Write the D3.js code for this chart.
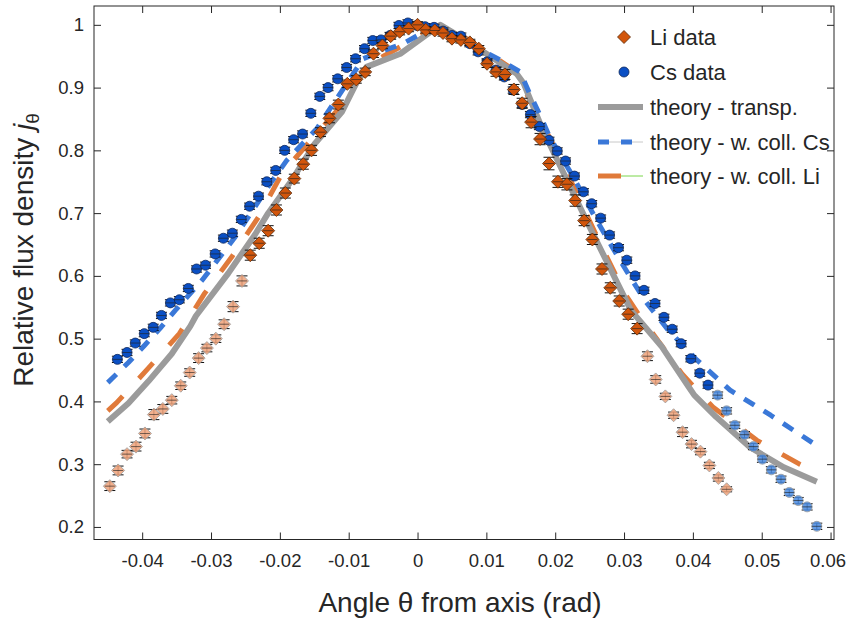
<!DOCTYPE html>
<html>
<head>
<meta charset="utf-8">
<script src="https://cdn.jsdelivr.net/npm/d3@7"></script>
<style>
  body{margin:0;background:#fff;}
  text{font-family:"Liberation Sans",Arial,sans-serif;fill:#262626;}
</style>
</head>
<body>
<script>
// tick labels
var xTicks=[-0.04,-0.03,-0.02,-0.01,0,0.01,0.02,0.03,0.04,0.05,0.06];
var yTicks=[0.2,0.3,0.4,0.5,0.6,0.7,0.8,0.9,1];

// Li data (angle, relative flux, error)
var liTheta=[-0.0447,-0.0435,-0.0422,-0.0409,-0.0396,-0.0383,-0.0370,-0.0357,-0.0344,-0.0331,-0.0318,-0.0306,-0.0293,-0.0281,-0.0268,-0.0255,
  -0.0243,-0.0230,-0.0217,-0.0205,-0.0192,-0.0179,-0.0166,-0.0154,-0.0141,-0.0128,-0.0115,-0.0102,-0.0089,-0.0076,-0.0064,-0.0051,-0.0039,-0.0026,-0.0013,
  0.0000,0.0012,0.0025,0.0037,0.0050,0.0063,0.0076,0.0089,0.0101,0.0114,0.0127,0.0140,0.0152,0.0165,0.0178,0.0191,0.0204,0.0217,0.0229,0.0242,0.0254,0.0268,0.0280,0.0293,0.0306,0.0319,
  0.0334,0.0346,0.0360,0.0372,0.0385,0.0398,0.0411,0.0424,0.0437,0.0449];
var liValue=[0.265,0.290,0.316,0.328,0.349,0.379,0.388,0.402,0.425,0.446,0.469,0.485,0.500,0.523,0.551,0.592,
  0.633,0.652,0.672,0.705,0.732,0.755,0.778,0.800,0.829,0.851,0.873,0.906,0.913,0.925,0.954,0.967,0.982,0.989,0.994,
  1.000,0.992,0.991,0.987,0.978,0.976,0.972,0.962,0.938,0.925,0.921,0.897,0.875,0.845,0.818,0.779,0.750,0.746,0.720,0.688,0.658,0.611,0.581,0.560,0.539,0.516,
  0.472,0.435,0.408,0.378,0.351,0.332,0.320,0.298,0.278,0.260];
var liError=[0.007,0.007,0.006,0.007,0.007,0.008,0.007,0.006,0.006,0.006,0.007,0.006,0.006,0.007,0.008,0.008,
  0.008,0.008,0.008,0.008,0.008,0.007,0.008,0.008,0.007,0.007,0.007,0.006,0.006,0.006,0.006,0.005,0.005,0.005,0.005,
  0.005,0.005,0.005,0.005,0.005,0.005,0.005,0.005,0.006,0.007,0.008,0.008,0.008,0.009,0.009,0.010,0.009,0.009,0.009,0.008,0.008,0.008,0.008,0.008,0.008,0.008,
  0.007,0.006,0.005,0.005,0.007,0.006,0.005,0.005,0.005,0.004];

// Cs data
var csTheta=[-0.0436,-0.0422,-0.0410,-0.0397,-0.0384,-0.0372,-0.0359,-0.0346,-0.0333,-0.0321,-0.0308,-0.0294,-0.0282,-0.0269,-0.0256,-0.0244,-0.0231,-0.0219,-0.0206,-0.0193,-0.0180,-0.0167,-0.0155,-0.0142,-0.0130,-0.0116,-0.0103,-0.0090,-0.0077,-0.0065,-0.0053,-0.0040,-0.0027,-0.0014,-0.0001,
  0.0011,0.0024,0.0037,0.0050,0.0063,0.0076,0.0088,0.0101,0.0114,0.0126,0.0139,0.0152,0.0164,0.0177,0.0191,0.0203,0.0215,0.0228,0.0241,0.0253,0.0266,0.0279,0.0292,0.0304,0.0316,0.0329,0.0345,0.0358,0.0370,0.0383,0.0397,0.0410,0.0422,
  0.0436,0.0449,0.0461,0.0475,0.0488,0.0501,0.0514,0.0528,0.0540,0.0553,0.0566,0.0580];
var csValue=[0.467,0.478,0.493,0.508,0.518,0.537,0.557,0.562,0.580,0.611,0.617,0.635,0.660,0.668,0.690,0.711,0.727,0.750,0.768,0.800,0.817,0.826,0.859,0.886,0.900,0.914,0.932,0.946,0.962,0.975,0.976,0.983,0.999,1.003,0.999,
  0.997,0.996,0.990,0.983,0.982,0.970,0.957,0.941,0.928,0.917,0.896,0.873,0.857,0.838,0.816,0.799,0.783,0.759,0.734,0.715,0.692,0.665,0.645,0.625,0.600,0.577,0.556,0.534,0.515,0.492,0.468,0.445,0.426,
  0.410,0.385,0.362,0.347,0.328,0.308,0.291,0.276,0.255,0.242,0.232,0.201];
var csError=[0.005,0.005,0.005,0.005,0.005,0.005,0.005,0.005,0.005,0.005,0.005,0.005,0.005,0.005,0.005,0.005,0.005,0.005,0.005,0.005,0.005,0.005,0.005,0.005,0.005,0.005,0.005,0.005,0.005,0.005,0.005,0.005,0.005,0.005,0.005,
  0.005,0.005,0.005,0.005,0.005,0.005,0.005,0.005,0.005,0.005,0.005,0.005,0.005,0.005,0.005,0.005,0.005,0.005,0.005,0.005,0.005,0.005,0.005,0.005,0.005,0.005,0.005,0.005,0.005,0.005,0.005,0.005,0.005,
  0.005,0.005,0.005,0.005,0.005,0.005,0.005,0.005,0.005,0.005,0.005,0.005];

// range of angles where the data is drawn at full strength
var liStrong=[-0.025,0.033];
var csStrong=[-0.05,0.043];

// theory curves
var transpTheta=[-0.0450,-0.0420,-0.0391,-0.0357,-0.0330,-0.0322,-0.0275,-0.0236,-0.0217,-0.0183,-0.0149,-0.0110,-0.0088,-0.0074,-0.0025,0.0033,0.0071,0.0144,0.0154,0.0183,0.0250,0.0310,0.0355,0.0394,0.0402,0.0434,0.0483,0.0532,0.0580];
var transpValue=[0.368,0.397,0.432,0.476,0.520,0.536,0.604,0.666,0.700,0.752,0.811,0.861,0.909,0.933,0.954,1.000,0.975,0.922,0.907,0.830,0.678,0.545,0.487,0.423,0.410,0.375,0.327,0.295,0.272];
var collCsTheta=[-0.0450,-0.0420,-0.0396,-0.0372,-0.0352,-0.0313,-0.0265,-0.0214,-0.0190,-0.0146,-0.0117,-0.0079,-0.0054,-0.0021,0.0018,0.0050,0.0120,0.0149,0.0163,0.0178,0.0192,0.0226,0.0260,0.0294,0.0330,0.0364,0.0404,0.0454,0.0513,0.0585];
var collCsValue=[0.430,0.462,0.490,0.519,0.545,0.593,0.662,0.747,0.784,0.835,0.883,0.946,0.957,0.970,0.994,0.985,0.944,0.925,0.890,0.856,0.821,0.758,0.689,0.625,0.561,0.514,0.468,0.418,0.378,0.326];
var collLiTheta=[-0.0450,-0.0437,-0.0391,-0.0346,-0.0310,-0.0270,-0.0231,-0.0197,-0.0159,-0.0110,-0.0069,-0.0025,0.0030,0.0071,0.0140,0.0180,0.0209,0.0236,0.0270,0.0301,0.0333,0.0342,0.0384,0.0429,0.0493,0.0555,0.0580];
var collLiValue=[0.385,0.398,0.453,0.508,0.571,0.630,0.694,0.763,0.811,0.872,0.938,0.965,0.998,0.978,0.928,0.845,0.784,0.720,0.641,0.572,0.519,0.508,0.444,0.391,0.338,0.300,0.287];

var legendLabels=["Li data","Cs data","theory - transp.","theory - w. coll. Cs","theory - w. coll. Li"];

// colours
var liFill="#d2560c", liEdge="#5a2a08", liFade="#eea27a";
var csFill="#0a4fc4", csEdge="#10285a", csFade="#4a8be0";
var grayC="#9b9b9b", blueC="#3a78d8", orangeC="#e07a3a";

var margin={top:6,right:13,bottom:81.5,left:94},
    width=847-margin.left-margin.right,
    height=621-margin.top-margin.bottom;

var x=d3.scaleLinear().domain([-0.047,0.0605]).range([0,width]);
var y=d3.scaleLinear().domain([0.18,1.03]).range([height,0]);

var svg=d3.select("body").append("svg")
    .attr("width",847).attr("height",621);
var g=svg.append("g").attr("transform","translate("+margin.left+","+margin.top+")");

g.append("clipPath").attr("id","clip").append("rect")
  .attr("width",width).attr("height",height);

function fmt(d){ return d===0 ? "0" : String(+d.toFixed(2)); }

// axes, ticks pointing inwards on all four sides
function styleAxis(sel){
  sel.select(".domain").remove();
  sel.selectAll(".tick line").attr("stroke","#262626");
  sel.selectAll(".tick text").attr("font-size","18.5px")
     .attr("font-family","'Liberation Sans',Arial,sans-serif").attr("fill","#262626");
}
var xAxisG=g.append("g").attr("transform","translate(0,"+height+")")
  .call(d3.axisBottom(x).tickValues(xTicks).tickFormat(fmt).tickSize(-7).tickPadding(14))
  .call(styleAxis);
// the last label sits at the window edge: keep it inside
xAxisG.selectAll(".tick:last-of-type text").attr("text-anchor","end").attr("x",15);
g.append("g")
  .call(d3.axisTop(x).tickValues(xTicks).tickFormat("").tickSize(-7))
  .call(styleAxis);
g.append("g")
  .call(d3.axisLeft(y).tickValues(yTicks).tickFormat(fmt).tickSize(-7).tickPadding(10))
  .call(styleAxis);
g.append("g").attr("transform","translate("+width+",0)")
  .call(d3.axisRight(y).tickValues(yTicks).tickFormat("").tickSize(-7))
  .call(styleAxis);

// theory lines
var line=d3.line().x(function(d){return x(d[0]);}).y(function(d){return y(d[1]);});
var lines=g.append("g").attr("clip-path","url(#clip)")
  .attr("fill","none").attr("stroke-linejoin","round");
lines.append("path").datum(d3.zip(collLiTheta,collLiValue))
  .attr("d",line).attr("stroke",orangeC).attr("stroke-width",5).attr("stroke-dasharray","21,24");
lines.append("path").datum(d3.zip(transpTheta,transpValue))
  .attr("d",line).attr("stroke",grayC).attr("stroke-width",6);
lines.append("path").datum(d3.zip(collCsTheta,collCsValue))
  .attr("d",line).attr("stroke",blueC).attr("stroke-width",5).attr("stroke-dasharray","12,11");

// data points with error bars
function drawSeries(theta,value,err,strong,shape,fill,edge,fade){
  var data=theta.map(function(t,i){
    return {t:t,v:value[i],e:err[i],on:t>=strong[0]&&t<=strong[1]};
  });
  var s=g.append("g");
  var eb=s.selectAll(".eb").data(data).enter().append("g")
    .attr("transform",function(d){return "translate("+x(d.t)+",0)";})
    .attr("stroke","#111").attr("stroke-width",1);
  eb.append("line").attr("y1",function(d){return y(d.v-d.e);}).attr("y2",function(d){return y(d.v+d.e);});
  eb.append("line").attr("x1",-5.5).attr("x2",5.5).attr("y1",function(d){return y(d.v-d.e);}).attr("y2",function(d){return y(d.v-d.e);});
  eb.append("line").attr("x1",-5.5).attr("x2",5.5).attr("y1",function(d){return y(d.v+d.e);}).attr("y2",function(d){return y(d.v+d.e);});
  s.selectAll(".mk").data(data).enter().append("path")
    .attr("d",shape)
    .attr("transform",function(d){return "translate("+x(d.t)+","+y(d.v)+")";})
    .attr("fill",function(d){return d.on?fill:fade;})
    .attr("fill-opacity",function(d){return d.on?1:0.85;})
    .attr("stroke",function(d){return d.on?edge:"#9a9a9a";})
    .attr("stroke-width",0.8);
  s.selectAll(".hl").data(data).enter().append("line")
    .attr("x1",function(d){return x(d.t)-5;}).attr("x2",function(d){return x(d.t)+5;})
    .attr("y1",function(d){return y(d.v);}).attr("y2",function(d){return y(d.v);})
    .attr("stroke","#222").attr("stroke-width",0.8).attr("opacity",0.8);
}
var diamond="M0,-6.5L6.5,0L0,6.5L-6.5,0Z";
var circle=d3.symbol().type(d3.symbolCircle).size(Math.PI*5*5)();
drawSeries(csTheta,csValue,csError,csStrong,circle,csFill,csEdge,csFade);
drawSeries(liTheta,liValue,liError,liStrong,diamond,liFill,liEdge,liFade);

// frame
g.append("rect").attr("width",width).attr("height",height)
  .attr("fill","none").attr("stroke","#262626").attr("stroke-width",1);

// legend
var lg=svg.append("g").attr("transform","translate(598,0)");
var rowY=[37,72,107,142,176];
lg.append("path").attr("d",diamond).attr("transform","translate(26,"+rowY[0]+")")
  .attr("fill",liFill).attr("stroke",liEdge).attr("stroke-width",0.8);
lg.append("path").attr("d",circle).attr("transform","translate(26,"+rowY[1]+")")
  .attr("fill",csFill).attr("stroke",csEdge).attr("stroke-width",0.8);
lg.append("line").attr("x1",0).attr("x2",45).attr("y1",rowY[2]).attr("y2",rowY[2])
  .attr("stroke",grayC).attr("stroke-width",6);
lg.append("line").attr("x1",0).attr("x2",45).attr("y1",rowY[3]).attr("y2",rowY[3])
  .attr("stroke","#c8c8c8").attr("stroke-width",1);
lg.append("line").attr("x1",0).attr("x2",35).attr("y1",rowY[3]).attr("y2",rowY[3])
  .attr("stroke",blueC).attr("stroke-width",5).attr("stroke-dasharray","11,12");
lg.append("line").attr("x1",23).attr("x2",45).attr("y1",rowY[4]).attr("y2",rowY[4])
  .attr("stroke","#7bd64a").attr("stroke-width",1);
lg.append("line").attr("x1",0).attr("x2",23).attr("y1",rowY[4]).attr("y2",rowY[4])
  .attr("stroke",orangeC).attr("stroke-width",5);
lg.selectAll(".lt").data(legendLabels).enter().append("text")
  .attr("x",52).attr("y",function(d,i){return rowY[i];}).attr("dy","0.36em")
  .attr("font-size","22px").text(function(d){return d;});

// axis titles
svg.append("text").attr("x",460).attr("y",612).attr("text-anchor","middle")
  .attr("font-size","28px").text("Angle \u03b8 from axis (rad)");
var yt=svg.append("text").attr("transform","translate(33,250) rotate(-90)")
  .attr("text-anchor","middle").attr("font-size","28px");
yt.append("tspan").text("Relative flux density ");
yt.append("tspan").attr("font-style","italic").text("j");
yt.append("tspan").attr("font-size","19px").attr("dy","0.3em").text("\u03b8");
</script>
</body>
</html>
